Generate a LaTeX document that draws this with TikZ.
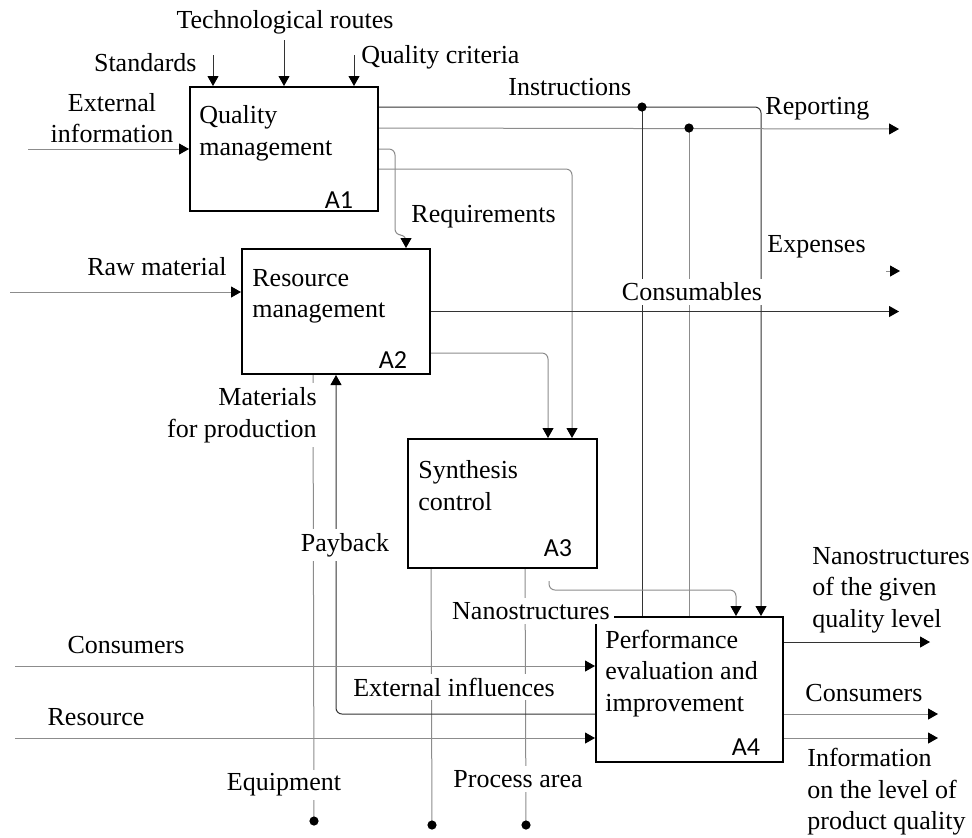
\documentclass[tikz,border=0pt]{standalone}
\usepackage{fontspec}
\setmainfont{Liberation Serif}
\newfontfamily\idfont{Carlito}
\usepackage{tikz}
\usetikzlibrary{arrows.meta, positioning, calc}

\begin{document}
\begin{tikzpicture}[x=0.5pt, y=-0.5pt,
  font=\fontsize{13}{15.75}\selectfont,
  >={Triangle[length=5pt, width=5.5pt, color=black]},
  fbox/.style={draw, line width=1pt, minimum width=94pt, inner sep=0pt},
  flow/.style={line width=0.5pt, draw=black!45},
  flowd/.style={line width=0.5pt, draw=black!80},
  lbl/.style={inner sep=0pt, align=left},
  cut/.style={fill=white, inner sep=2pt, align=center}]

\useasboundingbox (0,0) rectangle (972,837);

% Function boxes

\node[fbox, minimum height=62pt] (a1) at (284,149) {};
\node[fbox, minimum height=62.5pt] (a2) at (336,311.5) {};
\node[fbox, minimum height=64.5pt, minimum width=94.5pt] (a3) at (502.5,503.5) {};
\node[fbox, minimum height=72.5pt, minimum width=93.5pt] (a4) at (689.5,689.5) {};

\node[lbl, anchor=west] (a1t) at (199,133.5) {Quality\\management};
\node[lbl, anchor=west] (a2t) at (252,296.5) {Resource\\management};
\node[lbl, anchor=west] (a3t) at (418,485.5) {Synthesis\\control};
\node[lbl, anchor=west] (a4t) at (605,673.5) {Performance\\evaluation and\\improvement};

\node[inner sep=0pt] (a1n) at (339,200) {\idfont A1};
\node[inner sep=0pt] (a2n) at (393,360) {\idfont A2};
\node[inner sep=0pt] (a3n) at (558,548) {\idfont A3};
\node[inner sep=0pt] (a4n) at (746,747) {\idfont A4};

% Controls and inputs of A1
\coordinate (std)  at (213,55);
\coordinate (tech) at (284,40);
\coordinate (crit) at (354,55);
\coordinate (ext)  at (28,149);
\draw[flowd, ->] (std) -- (std |- a1.north);
\draw[flowd, ->] (tech) -- (tech |- a1.north);
\draw[flowd, ->] (crit) -- (crit |- a1.north);
\draw[flow, ->] (ext) -- (ext -| a1.west);

% Outputs of A1
\coordinate (qa) at ($(a1.north east)+(0,21)$);
\coordinate (qb) at ($(a1.north east)+(0,42)$);
\coordinate (qc) at ($(a1.north east)+(0,63)$);
\coordinate (qd) at ($(a1.north east)+(0,83)$);
\coordinate (pa) at ($(a4.north west)+(47,0)$);
\coordinate (pb) at ($(a4.north west)+(94,0)$);
\coordinate (pd) at ($(a4.north east)+(-23,0)$);
\coordinate (rep) at (899,129);
\coordinate (ra2) at ($(a2.north west)+(165,0)$);
\coordinate (ra3) at ($(a3.north west)+(165,0)$);

\draw[flowd, ->, rounded corners=3pt] (qa) -| (pd);
\draw[flow, ->] (qb) -- (rep);
\draw[flowd] (qa -| pa) -- (pa);
\draw[flow] (qb -| pb) -- (pb);
\fill (qa -| pa) circle[radius=2.3pt];
\fill (qb -| pb) circle[radius=2.3pt];
\draw[flow, ->, rounded corners=3pt] (qc) -| ++(16,86) -| (ra2);
\draw[flow, ->, rounded corners=3pt] (qd) -| (ra3);

% Inputs and outputs of A2
\coordinate (raw)  at (10,292);
\coordinate (cons) at (899,312);
\coordinate (expa) at (886,271);
\coordinate (expb) at (900,271);
\coordinate (sa) at ($(a2.north east)+(0,105)$);
\coordinate (sb) at ($(a3.north west)+(141,0)$);
\draw[flow, ->] (raw) -- (raw -| a2.west);
\draw[flowd, ->] (a2.east) -- (a2.east -| cons);
\draw[flow, ->] (expa) -- (expb);
\draw[flow, ->, rounded corners=3pt] (sa) -| (sb);

% Mechanisms
\coordinate (eq)  at ($(a2.south west)+(72,0)$);
\coordinate (deq) at (314,821);
\coordinate (ma)  at ($(a3.south west)+(24,0)$);
\coordinate (dma) at (432,825);
\coordinate (mb)  at ($(a3.south west)+(118,0)$);
\coordinate (dmb) at (526,825);
\draw[flow] (eq) -- (deq);
\draw[flow] (ma) -- (dma);
\draw[flow] (mb) -- (dmb);
\fill (deq) circle[radius=2.3pt];
\fill (dma) circle[radius=2.3pt];
\fill (dmb) circle[radius=2.3pt];

% Payback from A4 back to A2
\coordinate (pay)  at ($(a4.south west)+(0,-49)$);
\coordinate (pay2) at ($(a2.south west)+(95,0)$);
\draw[flowd, ->, rounded corners=3pt] (pay) -| (pay2);

% A3 to A4
\coordinate (nano) at ($(a3.south west)+(142,12)$);
\coordinate (na4)  at ($(a4.north west)+(141,0)$);
\draw[flow, ->, rounded corners=3pt] (nano) |- ($(na4)+(0,-26)$) -- (na4);

% Inputs and outputs of A4
\coordinate (cin) at (15,666);
\coordinate (rin) at (15,738);
\coordinate (oa) at (930,642);
\coordinate (ob) at (938,714);
\coordinate (oc) at (938,738);
\draw[flow, ->] (cin) -- (cin -| a4.west);
\draw[flow, ->] (rin) -- (rin -| a4.west);
\draw[flowd, ->] (a4.east |- oa) -- (oa);
\draw[flow, ->] (a4.east |- ob) -- (ob);
\draw[flow, ->] (a4.east |- oc) -- (oc);

% Arrow labels
\node[inner sep=0pt] (techl) at (285,22) {Technological routes};
\node[inner sep=0pt, anchor=east] (stdl) at (197,63) {Standards};
\node[inner sep=0pt, anchor=west] (critl) at (361,57) {Quality criteria};
\node[inner sep=0pt, align=center] (extl) at (112,118) {External\\information};
\node[inner sep=0pt, anchor=west] (insl) at (508,87) {Instructions};
\node[inner sep=0pt, anchor=west] (repl) at (765,109) {Reporting};
\node[inner sep=0pt, anchor=west] (reql) at (411,217) {Requirements};
\node[inner sep=0pt, anchor=west] (expl) at (767,247) {Expenses};
\node[inner sep=0pt, anchor=east] (rawl) at (227,267) {Raw material};
\node[cut] (consl) at (692,292) {Consumables};
\node[cut, anchor=east, align=right] (matl) at (321,415) {Materials\\for production};
\node[cut] (payl) at (345,545) {Payback};
\node[cut, anchor=east] (nanol) at (614,611) {Nanostructures};
\node[inner sep=0pt] (cinl) at (126,645) {Consumers};
\node[cut] (infl) at (454,687) {External influences};
\node[inner sep=0pt] (rinl) at (96,717) {Resource};
\node[cut] (eql) at (284,785) {Equipment};
\node[cut] (areal) at (518,779) {Process area};
\node[lbl, anchor=west] (oal) at (812,590) {Nanostructures\\of the given\\quality level};
\node[lbl, anchor=west] (obl) at (805,693) {Consumers};
\node[lbl, anchor=west] (ocl) at (807,792) {Information\\on the level of\\product quality};

\end{tikzpicture}
\end{document}
